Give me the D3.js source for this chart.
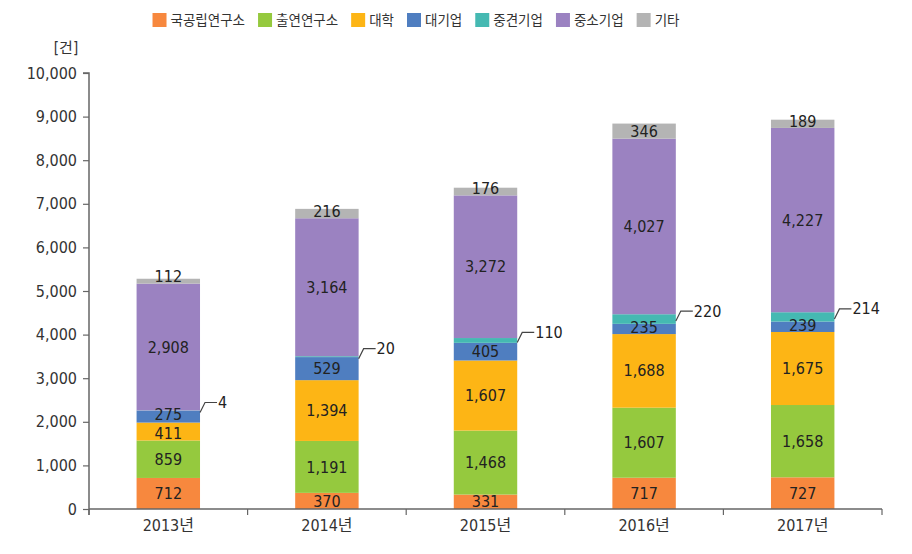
<!DOCTYPE html>
<html>
<head>
<meta charset="utf-8">
<script src="https://cdn.jsdelivr.net/npm/d3@7/dist/d3.min.js"></script>
<style>
  html, body { margin: 0; padding: 0; background: #fff; }
  svg text { font-family: "DejaVu Sans Condensed", "Liberation Sans Narrow", "Noto Sans CJK KR", sans-serif; }
</style>
</head>
<body>
<svg id="chart" width="912" height="554"></svg>
<script>
const years = ["2013년", "2014년", "2015년", "2016년", "2017년"];
const seriesNames = ["국공립연구소", "출연연구소", "대학", "대기업", "중견기업", "중소기업", "기타"];
const national = [712, 370, 331, 717, 727];
const gri = [859, 1191, 1468, 1607, 1658];
const university = [411, 1394, 1607, 1688, 1675];
const large = [275, 529, 405, 235, 239];
const midsize = [4, 20, 110, 220, 214];
const sme = [2908, 3164, 3272, 4027, 4227];
const etc = [112, 216, 176, 346, 189];
const yTicks = [0, 1000, 2000, 3000, 4000, 5000, 6000, 7000, 8000, 9000, 10000];
const colors = ["#F7883E", "#95C93E", "#FDB515", "#4F7EC0", "#45B9B2", "#9B82C1", "#B4B4B4"];

const seriesValues = [national, gri, university, large, midsize, sme, etc];
const table = years.map((yr, i) => {
  const row = { year: yr };
  seriesNames.forEach((s, k) => row[s] = seriesValues[k][i]);
  return row;
});
const stacked = d3.stack().keys(seriesNames)(table);

const svg = d3.select("#chart");
const plotLeft = 89, plotRight = 882, plotTop = 73, plotBottom = 509;

const y = d3.scaleLinear().domain([0, 10000]).range([plotBottom, plotTop]);
const xBand = d3.scaleBand().domain(years).range([plotLeft, plotRight]).padding(0);
const xBar = d3.scaleBand().domain(years).range([plotLeft, plotRight]).paddingInner(0.6).paddingOuter(0.3);

// Bars
const layers = svg.append("g").selectAll("g").data(stacked).join("g")
  .attr("fill", (d, i) => colors[i]);
layers.selectAll("rect").data(d => d).join("rect")
  .attr("x", d => xBar(d.data.year))
  .attr("width", xBar.bandwidth())
  .attr("y", d => y(d[1]))
  .attr("height", d => y(d[0]) - y(d[1]));

// Y axis
const yAxis = d3.axisLeft(y).tickValues(yTicks).tickFormat(d3.format(",")).tickSize(6).tickPadding(6);
const gy = svg.append("g").attr("transform", `translate(${plotLeft},0)`).call(yAxis);
gy.select(".domain").attr("stroke", "#666").attr("stroke-width", 1.5)
  .attr("d", `M-6,${plotTop}H0V${plotBottom + 6}`);
gy.selectAll(".tick line").attr("stroke", "#666").attr("stroke-width", 1.2);
gy.selectAll(".tick text").attr("fill", "#333").style("font-size", "16px");

// X axis
const xAxis = d3.axisBottom(xBand).tickSize(0).tickPadding(11);
const gx = svg.append("g").attr("transform", `translate(0,${plotBottom})`).call(xAxis);
gx.select(".domain").attr("stroke", "#666").attr("stroke-width", 1.5)
  .attr("d", `M${plotLeft},0H${plotRight}`);
gx.selectAll(".tick text").attr("fill", "#333").style("font-size", "16px");
const boundaries = years.map(d => xBand(d)).concat([xBand(years[years.length - 1]) + xBand.bandwidth()]);
gx.selectAll("line.bd").data(boundaries).join("line").attr("class", "bd")
  .attr("x1", d => d).attr("x2", d => d).attr("y1", 0).attr("y2", 6)
  .attr("stroke", "#666").attr("stroke-width", 1.2);

// Unit label
svg.append("text").attr("x", 66).attr("y", 48).attr("dy", "0.35em")
  .attr("text-anchor", "middle").attr("fill", "#333").style("font-size", "15px").text("[건]");

// Value labels
const fmt = d3.format(",");
const labelSize = 16, minGap = 19;
years.forEach((yr, i) => {
  const inside = [];
  stacked.forEach(layer => {
    const d = layer[i];
    const v = d.data[layer.key];
    const yb = y(d[0]), yt = y(d[1]);
    const mid = (yb + yt) / 2;
    if (layer.key === "중견기업") {
      const x0 = xBar(yr) + xBar.bandwidth();
      const ly = mid - 8;
      svg.append("path")
        .attr("d", `M${x0},${mid + 2}L${x0 + 5},${ly}H${x0 + 17}`)
        .attr("fill", "none").attr("stroke", "#444").attr("stroke-width", 1.2);
      svg.append("text").attr("x", x0 + 18).attr("y", ly).attr("dy", "0.35em")
        .attr("fill", "#222").style("font-size", labelSize + "px").text(fmt(v));
    } else {
      inside.push({ v, cy: Math.min(mid, yb - 7) });
    }
  });
  // resolve overlaps between adjacent labels (bottom to top)
  for (let k = 1; k < inside.length; k++) {
    const lo = inside[k - 1], hi = inside[k];
    const gap = lo.cy - hi.cy;
    if (gap < minGap) {
      const shift = (minGap - gap) / 2;
      lo.cy += shift; hi.cy -= shift;
    }
  }
  inside.forEach(l => {
    svg.append("text").attr("x", xBar(yr) + xBar.bandwidth() / 2)
      .attr("y", l.cy).attr("dy", "0.35em").attr("text-anchor", "middle")
      .attr("fill", "#222").style("font-size", labelSize + "px").text(fmt(l.v));
  });
});

// Legend
const legend = svg.append("g");
let cx = 0;
seriesNames.forEach((s, i) => {
  const g = legend.append("g").attr("transform", `translate(${cx},0)`);
  g.append("rect").attr("x", 0).attr("y", 13).attr("width", 14).attr("height", 14).attr("fill", colors[i]);
  const t = g.append("text").attr("x", 18).attr("y", 20).attr("dy", "0.35em")
    .attr("fill", "#333").style("font-size", "13.5px").style("font-family", "'Noto Sans CJK KR', sans-serif").text(s);
  cx += 18 + t.node().getComputedTextLength() + 13;
});
const lw = cx - 13;
legend.attr("transform", `translate(${416 - lw / 2},0)`);
</script>
</body>
</html>
